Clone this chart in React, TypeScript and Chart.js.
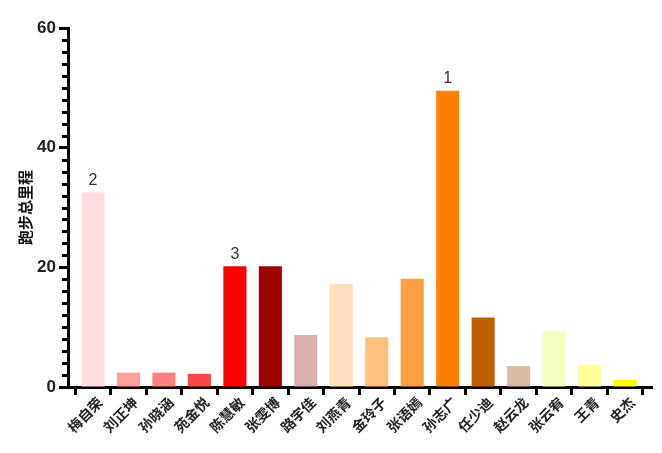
import React, { useEffect, useRef } from "react";
import { Chart, registerables } from "chart.js";

Chart.register(...registerables);

const categories = [
  "梅自荣", "刘正坤", "孙晓涵", "苑金悦", "陈慧敏", "张雯博", "路宇佳", "刘燕青",
  "金玲子", "张语嫣", "孙志广", "任少迪", "赵云龙", "张云宥", "王青", "史杰",
];
const values = [32.5, 2.4, 2.4, 2.2, 20.2, 20.2, 8.7, 17.2, 8.3, 18.1, 49.5, 11.6, 3.5, 9.3, 3.7, 1.2];
const barColors = [
  "#FFDDE0", "#FFA0A0", "#FF8080", "#FF4545", "#FF0000", "#A00000", "#D8B0B0", "#FFDEBE",
  "#FFC080", "#FFA040", "#FF8000", "#C06000", "#D8BCA8", "#F4FFC0", "#FFFF99", "#FFFF00",
];
const rankLabels = ["2", "", "", "", "3", "", "", "", "", "", "1", "", "", "", "", ""];
const yMajorStep = 20;
const yMinorStep = 2;
const yMax = 60;
const yTitle = "跑步总里程";

const extrasPlugin = {
  id: "extras",
  afterDraw(chart: any) {
    const ctx = chart.ctx;
    const y = chart.scales.y;
    const left = chart.chartArea.left;
    ctx.save();
    ctx.strokeStyle = "#000";
    ctx.lineWidth = 3;
    for (let v = 0; v <= yMax; v += yMinorStep) {
      if (v % yMajorStep === 0) continue;
      const py = Math.round(y.getPixelForValue(v)) + 0.5;
      ctx.beginPath();
      ctx.moveTo(left - 6, py);
      ctx.lineTo(left, py);
      ctx.stroke();
    }
    const meta = chart.getDatasetMeta(0);
    ctx.fillStyle = "#333";
    ctx.font = "16px 'Liberation Sans', Arial, sans-serif";
    ctx.textAlign = "center";
    ctx.textBaseline = "bottom";
    meta.data.forEach((el: any, i: number) => {
      const t = rankLabels[i];
      if (!t) return;
      ctx.fillText(t, el.x, el.y - 4);
    });
    ctx.restore();
  },
};

export default function App() {
  const ref = useRef<HTMLCanvasElement>(null);
  useEffect(() => {
    if (!ref.current) return;
    const chart = new Chart(ref.current, {
      type: "bar",
      data: {
        datasets: [
          {
            data: values.map((v, i) => ({ x: i, y: v })) as any,
            backgroundColor: barColors,
            borderWidth: 0,
            categoryPercentage: 1,
            barPercentage: 0.65,
          },
        ],
      },
      options: {
        animation: false,
        responsive: false,
        layout: { padding: { top: 28, right: 10, left: 0, bottom: 0 } },
        plugins: { legend: { display: false }, tooltip: { enabled: false } },
        scales: {
          x: {
            type: "linear",
            offset: false,
            min: -0.705,
            max: 15.76,
            afterBuildTicks: (s: any) => {
              s.ticks = categories.map((_, i) => ({ value: i }));
            },
            afterFit: (s: any) => {
              s.height = 66;
            },
            ticks: {
              autoSkip: false,
              maxRotation: 45,
              minRotation: 45,
              padding: -1,
              labelOffset: 7,
              color: "#222",
              font: { size: 14, weight: "bold", family: "'Noto Sans CJK SC', sans-serif" },
              callback: (v: any) => categories[v] ?? "",
            },
            grid: {
              display: true,
              drawOnChartArea: false,
              drawTicks: true,
              tickLength: 8,
              tickWidth: 3,
              tickColor: "#000",
            },
            border: { display: true, width: 3, color: "#000" },
          },
          y: {
            min: 0,
            max: yMax,
            afterFit: (s: any) => {
              s.width = 68;
            },
            ticks: {
              stepSize: yMajorStep,
              padding: 3,
              color: "#222",
              font: { size: 17, weight: "bold", family: "'Liberation Sans', Arial, sans-serif" },
            },
            grid: {
              display: true,
              drawOnChartArea: false,
              drawTicks: true,
              tickLength: 9,
              tickWidth: 3,
              tickColor: "#000",
            },
            border: { display: true, width: 3, color: "#000" },
            title: {
              display: true,
              text: yTitle,
              color: "#111",
              font: { size: 15, weight: "bold", family: "'Noto Sans CJK SC', sans-serif" },
              padding: { top: 16, bottom: 0 },
            },
          },
        },
      },
      plugins: [extrasPlugin],
    });
    return () => chart.destroy();
  }, []);
  return (
    <div style={{ position: "fixed", left: 0, top: 0, width: 662, height: 453, background: "#fff" }}>
      <canvas ref={ref} width={662} height={453} />
    </div>
  );
}
